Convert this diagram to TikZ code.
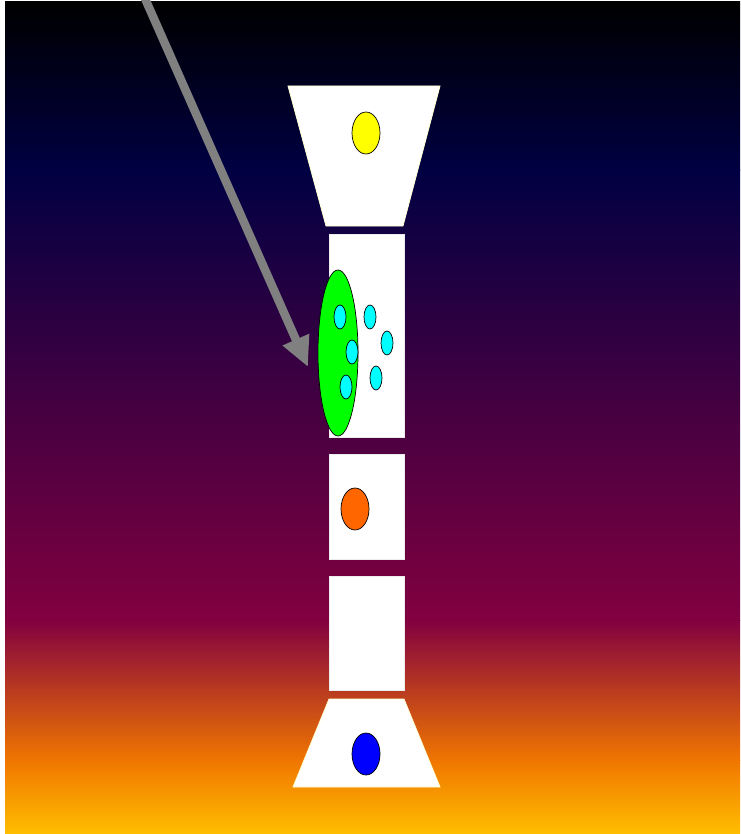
\documentclass[tikz,border=0pt]{standalone}
\usetikzlibrary{arrows.meta}
\definecolor{bgA}{RGB}{0,0,0}
\definecolor{bgB}{RGB}{0,0,66}
\definecolor{bgC}{RGB}{130,0,64}
\definecolor{bgD}{RGB}{240,118,0}
\definecolor{bgE}{RGB}{255,190,0}
\definecolor{rim}{RGB}{255,255,210}
\definecolor{arrowgray}{RGB}{128,128,128}
\definecolor{fyellow}{RGB}{255,255,0}
\definecolor{fgreen}{RGB}{0,255,0}
\definecolor{fcyan}{RGB}{0,255,255}
\definecolor{forange}{RGB}{255,102,0}
\definecolor{fblue}{RGB}{0,0,255}
\tikzset{
  part/.style={fill=white,draw=rim,line width=0.8pt},
  block/.style={fill=white,draw=white!85!gray,line width=0.5pt},
  blob/.style={draw=black,line width=0.7pt},
  pointer/.style={draw=arrowgray,line width=8.5pt,-{Triangle[length=30pt,width=27pt]}}
}
\begin{document}
\begin{tikzpicture}[x=1pt,y=-1pt]
\useasboundingbox (0,0) rectangle (740,834);
\clip (0,0) rectangle (740,834);
% background gradient
\shade[top color=bgA,bottom color=bgB] (5,2) rectangle (740,170.5);
\shade[top color=bgB,bottom color=bgC] (5,170) rectangle (740,620.5);
\shade[top color=bgC,bottom color=bgD] (5,620) rectangle (740,760.5);
\shade[top color=bgD,bottom color=bgE] (5,760) rectangle (740,834);
% top trapezoid
\draw[part] (288,86) -- (440,86) -- (403,226) -- (326,226) -- cycle;
\draw[blob,fill=fyellow] (366,133) ellipse [x radius=14, y radius=21];
% second block
\draw[block] (329,234) rectangle (404,437);
\draw[blob,fill=fgreen] (338,353) ellipse [x radius=20, y radius=83];
\foreach \cx/\cy in {340/317, 370/317, 387/343, 352/352, 346/387, 376/378}
  \draw[blob,fill=fcyan] (\cx,\cy) ellipse [x radius=6, y radius=12];
% third block
\draw[block] (329,454) rectangle (404,559);
\draw[blob,fill=forange] (355,509) ellipse [x radius=14, y radius=21];
% fourth block
\draw[block] (329,576) rectangle (404,690);
% bottom trapezoid
\draw[part] (329,699) -- (404,699) -- (440,787) -- (293,787) -- cycle;
\draw[blob,fill=fblue] (366,754) ellipse [x radius=14, y radius=21];
% arrow
\coordinate (start) at (143,-6);
\coordinate (tip) at (308,367);
\draw[pointer] (start) -- (tip);
\end{tikzpicture}
\end{document}
